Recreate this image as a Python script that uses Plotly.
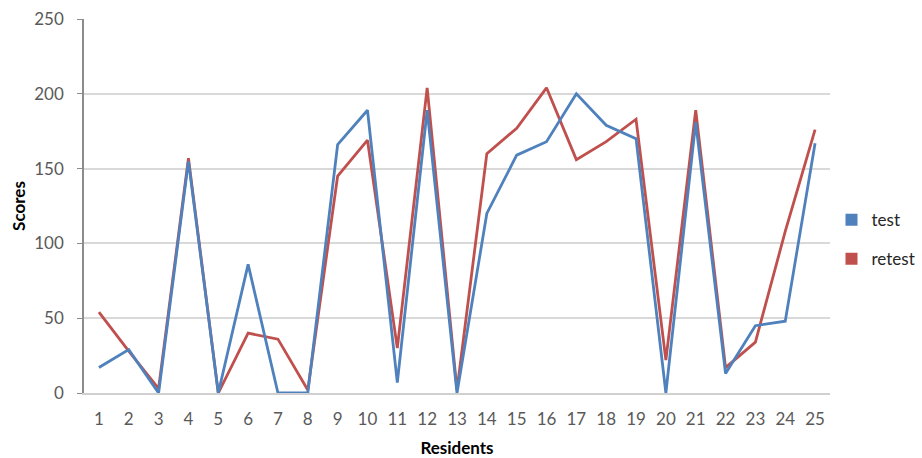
import plotly.graph_objects as go

# Scores per resident, first test and retest
residents = list(range(1, 26))
test_scores = [17, 29, 0, 155, 0, 86, 0, 0, 166, 189, 7, 189, 0, 120, 159, 168, 200, 179, 170, 0, 181, 13, 45, 48, 167]
retest_scores = [54, 28, 3, 157, 0, 40, 36, 2, 145, 169, 30, 204, 2, 160, 177, 204, 156, 168, 183, 22, 189, 17, 34, 108, 176]
y_ticks = [0, 50, 100, 150, 200, 250]

BLUE = "#4F81BD"
RED = "#C0504D"
FONT = "Lato, Carlito, 'Liberation Sans', sans-serif"

fig = go.Figure()

# retest drawn first so the test line sits on top
fig.add_trace(go.Scatter(x=residents, y=retest_scores, mode="lines",
                         line=dict(color=RED, width=2.8), showlegend=False))
fig.add_trace(go.Scatter(x=residents, y=test_scores, mode="lines",
                         line=dict(color=BLUE, width=2.8), showlegend=False))

# square legend keys
fig.add_trace(go.Scatter(x=[None], y=[None], mode="markers", name="test",
                         marker=dict(symbol="square", size=12, color=BLUE),
                         legendgroup="a"))
fig.add_trace(go.Scatter(x=[None], y=[None], mode="markers", name="retest",
                         marker=dict(symbol="square", size=12, color=RED),
                         legendgroup="b"))

fig.update_layout(
    width=922, height=458,
    margin=dict(l=84, r=92, t=19, b=65, autoexpand=False),
    plot_bgcolor="white", paper_bgcolor="white",
    font=dict(family=FONT, color="#595959", size=17),
    legend=dict(x=1.002, y=0.41, xanchor="left", yanchor="middle",
                font=dict(size=17, color="#262626"),
                tracegroupgap=14, itemwidth=30,
                bgcolor="rgba(0,0,0,0)"),
    xaxis=dict(
        range=[0.5, 25.5], tickmode="array", tickvals=residents,
        ticktext=[str(r) for r in residents],
        showgrid=False, zeroline=False,
        showline=True, linecolor="#d0d0d0", linewidth=2,
        ticks="", ticklabelstandoff=10,
        tickfont=dict(size=17, color="#595959"),
        title=dict(text="<b>Residents</b>", standoff=14,
                   font=dict(size=17, color="#000000")),
    ),
    yaxis=dict(
        range=[0, 250], tickmode="array", tickvals=y_ticks,
        showgrid=True, gridcolor="#d9d9d9", gridwidth=2,
        zeroline=False,
        showline=True, linecolor="#8c8c8c", linewidth=1.5,
        ticks="outside", ticklen=5, tickcolor="#8c8c8c",
        ticklabelstandoff=10,
        tickfont=dict(size=17, color="#595959"),
        title=dict(text="<b>Scores</b>", standoff=4,
                   font=dict(size=17, color="#000000")),
    ),
)

fig.write_html("out.html")
